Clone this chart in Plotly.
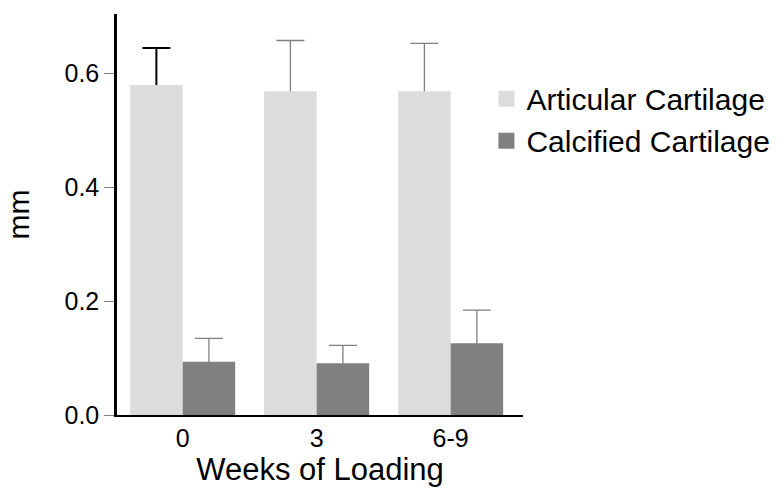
import plotly.graph_objects as go

weeks = ["0", "3", "6-9"]
articular = [0.579, 0.568, 0.568]
articular_err = [0.065, 0.089, 0.084]
calcified = [0.0935, 0.091, 0.126]
calcified_err = [0.041, 0.031, 0.058]
yticks = [0.0, 0.2, 0.4, 0.6]
ytick_text = ["0.0", "0.2", "0.4", "0.6"]

LIGHT = "#dcdcdc"
DARK = "#808080"
FONT = "Liberation Sans, Arial, sans-serif"

fig = go.Figure()


def err_trace(x, y, err, group, color, thick):
    # invisible bar carrying an upward error bar; its lower part is hidden
    # underneath the visible bar drawn afterwards
    return go.Bar(
        x=x, y=y, offsetgroup=group, showlegend=False, hoverinfo="skip",
        marker=dict(color="rgba(0,0,0,0)", line=dict(width=0)),
        error_y=dict(type="data", array=err, symmetric=False, arrayminus=y,
                     color=color, thickness=thick, width=14),
    )


fig.add_trace(err_trace(weeks[:1], articular[:1], articular_err[:1], "a", "black", 2))
fig.add_trace(err_trace(weeks[1:], articular[1:], articular_err[1:], "a", DARK, 1.3))
fig.add_trace(err_trace(weeks, calcified, calcified_err, "c", DARK, 1.3))

fig.add_trace(go.Bar(x=weeks, y=articular, offsetgroup="a", showlegend=False,
                     marker=dict(color=LIGHT, line=dict(width=0))))
fig.add_trace(go.Bar(x=weeks, y=calcified, offsetgroup="c", showlegend=False,
                     marker=dict(color=DARK, line=dict(width=0))))

# legend proxies
fig.add_trace(go.Scatter(x=[None], y=[None], mode="markers", name="Articular Cartilage",
                         marker=dict(symbol="square", size=16, color=LIGHT)))
fig.add_trace(go.Scatter(x=[None], y=[None], mode="markers", name="Calcified Cartilage",
                         marker=dict(symbol="square", size=16, color=DARK)))

fig.update_layout(
    width=782, height=488,
    margin=dict(l=117, r=259, t=14, b=73, autoexpand=False),
    paper_bgcolor="white", plot_bgcolor="white",
    font=dict(family=FONT, color="black", size=25),
    barmode="group", bargap=0.216, bargroupgap=0,
    legend=dict(xref="container", yref="container", x=0.622, y=0.851,
                xanchor="left", yanchor="top", font=dict(size=30),
                itemsizing="trace", tracegroupgap=0, bgcolor="rgba(0,0,0,0)"),
    xaxis=dict(type="category", categoryorder="array", categoryarray=weeks,
               range=[-0.49, 2.54], showline=True, linecolor="black", linewidth=2,
               ticks="", showgrid=False, zeroline=False,
               tickfont=dict(size=25),
               title=dict(text="Weeks of Loading", font=dict(size=31), standoff=7)),
    yaxis=dict(range=[0, 0.7035], tickvals=yticks, ticktext=ytick_text,
               showline=True, linecolor="black", linewidth=2.5,
               ticks="outside", ticklen=10, tickcolor=DARK, tickwidth=1,
               showgrid=False, zeroline=False, tickfont=dict(size=25),
               title=dict(text="mm", font=dict(size=30), standoff=26)),
)

fig.write_html("out.html")
